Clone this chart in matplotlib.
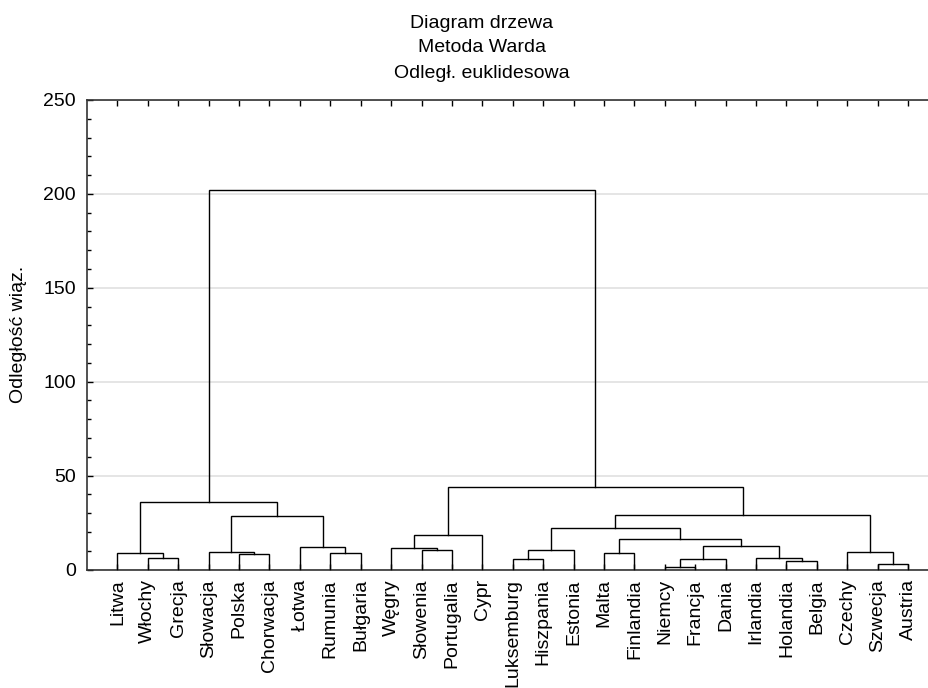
import matplotlib
matplotlib.use("Agg")
import matplotlib.pyplot as plt
import numpy as np

plt.rcParams['font.family'] = ['Liberation Sans', 'DejaVu Sans']

leaves = ["Litwa", "Włochy", "Grecja", "Słowacja", "Polska", "Chorwacja", "Łotwa",
          "Rumunia", "Bułgaria", "Węgry", "Słowenia", "Portugalia", "Cypr",
          "Luksemburg", "Hiszpania", "Estonia", "Malta", "Finlandia", "Niemcy",
          "Francja", "Dania", "Irlandia", "Holandia", "Belgia", "Czechy",
          "Szwecja", "Austria"]

# merges: (left cluster id, right cluster id); new cluster ids start at len(leaves)
merge_left = [18, 25, 22, 13, 27, 1, 21, 4, 0, 7, 16, 3, 24, 30, 10, 9, 6, 31,
              37, 42, 40, 38, 47, 35, 46, 50]
merge_right = [19, 26, 23, 14, 20, 2, 29, 5, 32, 8, 17, 34, 28, 15, 11, 41, 36, 33,
               44, 12, 45, 43, 39, 48, 49, 51]
merge_height = [1.3, 2.9, 4.7, 5.8, 5.8, 6.1, 6.1, 8.1, 8.8, 8.9, 8.9, 9.2, 9.5,
                10.2, 10.5, 11.3, 12.0, 12.3, 16.2, 18.2, 21.9, 28.3, 28.9, 35.8,
                44.1, 201.9]

title_lines = ["Diagram drzewa", "Metoda Warda", "Odległ. euklidesowa"]
y_label = "Odległość wiąz."

FS = 14
W, H = 929, 688
fig = plt.figure(figsize=(W / 100, H / 100), dpi=100)
ax_left, ax_right, ax_bottom, ax_top = 87, 938.5, 569.5, 100
ax = fig.add_axes([ax_left / W, (H - ax_bottom) / H,
                   (ax_right - ax_left) / W, (ax_bottom - ax_top) / H])

n = len(leaves)
xpos = {i: i + 1 for i in range(n)}
ypos = {i: 0.0 for i in range(n)}
for k, (a, b, h) in enumerate(zip(merge_left, merge_right, merge_height)):
    cid = n + k
    xa, xb = xpos[a], xpos[b]
    ya, yb = ypos[a], ypos[b]
    ax.plot([xa, xa, xb, xb], [ya, h, h, yb], color='black', lw=1.0,
            solid_joinstyle='miter', zorder=3)
    xpos[cid] = (xa + xb) / 2
    ypos[cid] = h

ax.set_xlim(0, n + 1)
ax.set_ylim(0, 250)
ax.set_yticks([0, 50, 100, 150, 200, 250])
ax.set_yticks(np.arange(0, 251, 10), minor=True)
ax.set_xticks(np.arange(1, n + 1))
ax.set_xticklabels(leaves, rotation=90, fontsize=FS)
ax.tick_params(axis='x', direction='in', length=4, width=1, top=True,
               bottom=True, pad=7, colors='black')
ax.tick_params(axis='y', which='major', direction='in', length=4, width=1,
               labelsize=FS, pad=8)
ax.tick_params(axis='y', which='minor', direction='in', length=3, width=1)
ax.yaxis.grid(True, which='major', color='#e0e0e0', lw=1.2, zorder=0)
ax.set_axisbelow(True)
ax.spines['right'].set_visible(False)
for s in ['left', 'top', 'bottom']:
    ax.spines[s].set_linewidth(1.2)
    ax.spines[s].set_color('#333333')

ax.set_ylabel(y_label, fontsize=FS)
ax.yaxis.set_label_coords(-60 / (ax_right - ax_left), 0.5)

for i, t in enumerate(title_lines):
    fig.text(482 / W, 1 - (23 + 25 * i) / H, t, ha='center', va='center',
             fontsize=FS)

fig.savefig("out.png", dpi=100)
